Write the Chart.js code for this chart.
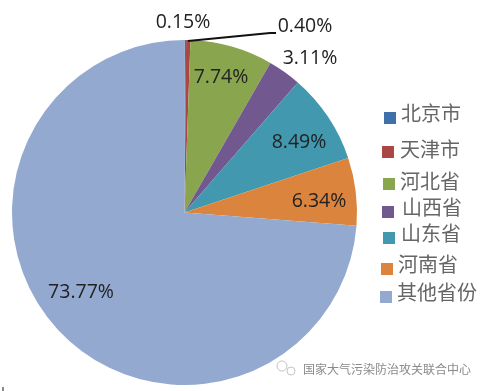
<!DOCTYPE html>
<html lang="zh-CN">

<head>
    <meta charset="UTF-8">
    <title>各省份占比</title>
    <script src="https://cdn.jsdelivr.net/npm/chart.js"></script>
    <style>
        html, body {
            margin: 0;
            background: #fff;
        }

        canvas {
            display: block;
        }
    </style>
</head>

<body>
<canvas id="pieChart" width="486" height="391"></canvas>
<script>
    const categories = ['北京市', '天津市', '河北省', '山西省', '山东省', '河南省', '其他省份'];
    const shares = [0.15, 0.40, 7.74, 3.11, 8.49, 6.34, 73.77];
    const colors = ['#3f70a9', '#aa4643', '#89a54e', '#71588f', '#4198af', '#db843d', '#93a9cf'];

    // 百分比标签位置（文字中心）
    const labelPos = [[183, 22], [305, 26], [221, 77], [310, 58], [299, 142], [319, 201], [81, 292]];
    // 图例：方块左上角 + 文字起点，原图排得不整齐
    const legendPos = [
        [384, 112, 401, 113],
        [382, 146, 400, 149],
        [383, 178, 400, 181],
        [382, 206, 402, 207],
        [383, 232, 401, 233],
        [381, 263, 398, 264],
        [380, 291, 397, 292]
    ];

    const annotations = {
        id: 'annotations',
        afterDraw(chart) {
            const ctx = chart.ctx;
            ctx.save();

            // 0.40% 的引线
            ctx.strokeStyle = '#111';
            ctx.lineWidth = 2;
            ctx.beginPath();
            ctx.moveTo(188, 41);
            ctx.lineTo(270, 33);
            ctx.lineTo(276, 33);
            ctx.stroke();

            // 百分比
            ctx.font = '19.5px "Open Sans", sans-serif';
            ctx.fillStyle = '#222';
            ctx.textAlign = 'center';
            ctx.textBaseline = 'middle';
            shares.forEach((v, i) => {
                ctx.fillText(v.toFixed(2) + '%', labelPos[i][0], labelPos[i][1]);
            });

            // 图例
            ctx.textAlign = 'left';
            ctx.font = '20px "Noto Sans CJK SC", sans-serif';
            categories.forEach((name, i) => {
                const p = legendPos[i];
                ctx.fillStyle = colors[i];
                ctx.fillRect(p[0], p[1], 12, 12);
                ctx.fillStyle = '#666';
                ctx.fillText(name, p[2], p[3]);
            });

            // 水印
            ctx.font = '12px "Noto Sans CJK SC", sans-serif';
            ctx.fillStyle = '#8a8a8a';
            ctx.fillText('国家大气污染防治攻关联合中心', 303, 369);
            ctx.strokeStyle = '#c4c4c4';
            ctx.lineWidth = 1;
            ctx.beginPath();
            ctx.arc(282, 366, 5, 0, Math.PI * 2);
            ctx.stroke();
            ctx.beginPath();
            ctx.arc(291, 371, 4, 0, Math.PI * 2);
            ctx.stroke();

            // 左下角的残留小竖条
            ctx.fillStyle = '#888';
            ctx.fillRect(2, 387, 2, 4);

            ctx.restore();
        }
    };

    new Chart(document.getElementById('pieChart').getContext('2d'), {
        type: 'pie',
        data: {
            labels: categories,
            datasets: [{
                data: shares,
                backgroundColor: colors,
                borderWidth: 0
            }]
        },
        options: {
            responsive: false,
            animation: false,
            layout: {
                padding: { left: 12, right: 129, top: 40, bottom: 6 }
            },
            plugins: {
                legend: { display: false },
                tooltip: { enabled: false }
            }
        },
        plugins: [annotations]
    });
</script>
</body>

</html>
